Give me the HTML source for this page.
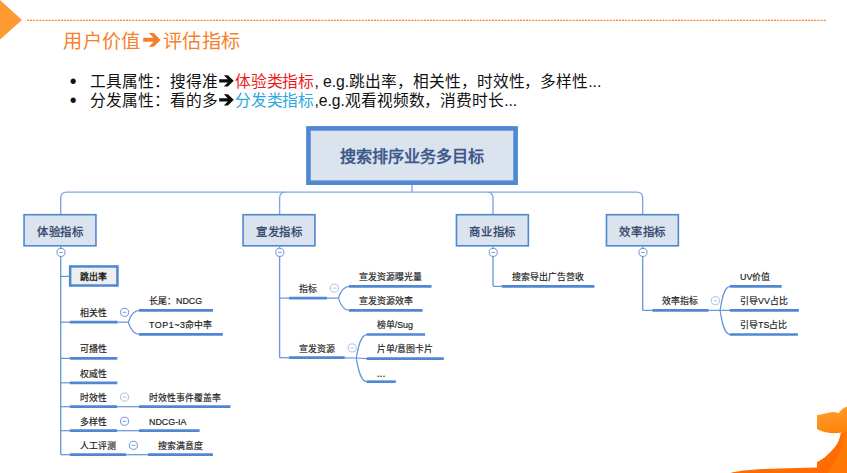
<!DOCTYPE html>
<html lang="zh-CN"><head><meta charset="utf-8"><title>用户价值 评估指标</title>
<style>
html,body{margin:0;padding:0;background:#fff;}
body{width:847px;height:473px;position:relative;overflow:hidden;font-family:"Liberation Sans",sans-serif;}
.t{position:absolute;white-space:nowrap;overflow:visible;}
#g{position:absolute;left:0;top:0;}
.title{position:absolute;left:63.3px;top:28.4px;height:28px;line-height:28px;font-size:19.2px;letter-spacing:0.38px;color:#F5822A;white-space:nowrap;}
.b{position:absolute;left:70.5px;height:20px;line-height:20px;font-size:15.72px;letter-spacing:-0.05px;color:#111;white-space:nowrap;}
.b .dot{display:inline-block;width:19.5px;font-size:19.4px;line-height:0;vertical-align:-1.3px;text-indent:-0.7px;letter-spacing:0;}
.red{color:#F01818;} .blue{color:#2CA6E0;}
.arr{display:inline-block;} .at{vertical-align:1.35px;} .ab{vertical-align:-0.4px;}
</style></head><body>
<svg id="g" width="847" height="473" viewBox="0 0 847 473">
<defs>
<linearGradient id="og" x1="0" y1="0" x2="0.35" y2="1"><stop offset="0" stop-color="#FFA133"/><stop offset="1" stop-color="#FF860C"/></linearGradient>
</defs>
<!-- header decorations -->
<path d="M0 0 L22 20 L0 39.5 Z" fill="#FF9A33"/>
<path d="M27 20.4 L826 20.4" stroke="#FB7B22" stroke-width="1.4" stroke-dasharray="1.9 1.2" fill="none"/>
<!-- bottom-right swoosh -->
<path d="M847 431 L847 473 L730.5 473 C738 470.6 752 469.2 778 468.4 L817 467.5 L817 462.2 C824 458.6 832 451.5 837.6 442.9 C839.4 439.5 840.4 436 840.8 433 Z" fill="#FF6C02"/>
<path d="M847 430 L843.5 433 C843 448 837 462 827.5 473 L847 473 Z" fill="#FF7909"/>
<path d="M817 415 C824 414.5 829 412 834 412 C836 412 837 413 838.5 413.2 C840 411 843 408 847 406.5 L847 431.5 C838 434 826 434 817 429 Z" fill="url(#og)"/>
<!-- mind map -->
<rect x="308.45" y="128.4" width="207.15" height="54.3" fill="#DAE3EE" stroke="#4F87D3" stroke-width="4.6"/>
<path d="M412 185L412 192.1" stroke="#82A8E1" stroke-width="1.4" fill="none"/>
<path d="M60.7 214 L60.7 198.1 Q60.7 192.1 66.7 192.1 L636.7 192.1 Q642.7 192.1 642.7 198.1 L642.7 214" stroke="#82A8E1" stroke-width="1.4" fill="none"/>
<path d="M279.6 214 L279.6 198.1 Q279.6 192.1 285.6 192.1" stroke="#82A8E1" stroke-width="1.4" fill="none"/>
<path d="M493 214 L493 198.1 Q493 192.1 487 192.1" stroke="#82A8E1" stroke-width="1.4" fill="none"/>
<rect x="24.05" y="214.7" width="71.9" height="31.1" fill="#DAE3EE" stroke="#4F87D3" stroke-width="1.6"/>
<rect x="243.05" y="214.7" width="71.9" height="31.1" fill="#DAE3EE" stroke="#4F87D3" stroke-width="1.6"/>
<rect x="456.45" y="214.7" width="71.9" height="31.1" fill="#DAE3EE" stroke="#4F87D3" stroke-width="1.6"/>
<rect x="606.45" y="214.7" width="71.9" height="31.1" fill="#DAE3EE" stroke="#4F87D3" stroke-width="1.6"/>
<path d="M60.7 246.5L60.7 454.7" stroke="#6A9ADD" stroke-width="1.35" fill="none"/>
<circle cx="61" cy="252.4" r="4.05" fill="#fff" stroke="#6594DA" stroke-width="1"/>
<path d="M59.1 252.4L62.9 252.4" stroke="#6594DA" stroke-width="1" opacity="0.85"/>
<path d="M60.7 276.4L70 276.4" stroke="#6896DC" stroke-width="1.25" fill="none"/>
<rect x="70.15" y="266.45" width="47.3" height="19.1" fill="#EFEFEF" stroke="#4F87D3" stroke-width="2.5"/>
<path d="M60.7 322.2L70 322.2" stroke="#6896DC" stroke-width="1.25" fill="none"/>
<path d="M69.9 322.2L117.6 322.2" stroke="#4F87D5" stroke-width="2.7" fill="none"/>
<path d="M60.7 358.4L70 358.4" stroke="#6896DC" stroke-width="1.25" fill="none"/>
<path d="M69.9 358.4L117.3 358.4" stroke="#4F87D5" stroke-width="2.7" fill="none"/>
<path d="M60.7 382.8L70 382.8" stroke="#6896DC" stroke-width="1.25" fill="none"/>
<path d="M69.9 382.8L117.3 382.8" stroke="#4F87D5" stroke-width="2.7" fill="none"/>
<path d="M60.7 406.7L70 406.7" stroke="#6896DC" stroke-width="1.25" fill="none"/>
<path d="M69.9 406.7L117.3 406.7" stroke="#4F87D5" stroke-width="2.7" fill="none"/>
<path d="M60.7 430.7L70 430.7" stroke="#6896DC" stroke-width="1.25" fill="none"/>
<path d="M69.9 430.7L117.3 430.7" stroke="#4F87D5" stroke-width="2.7" fill="none"/>
<path d="M60.7 454.7L70 454.7" stroke="#6896DC" stroke-width="1.25" fill="none"/>
<path d="M69.9 454.7L126.2 454.7" stroke="#4F87D5" stroke-width="2.7" fill="none"/>
<path d="M117.6 322.2L128.3 322.2" stroke="#6896DC" stroke-width="1.25" fill="none"/>
<path d="M128.3 322.2 C130.44 315.71 133.12 310.4 139.5 310.4" stroke="#6896DC" stroke-width="1.25" fill="none"/>
<path d="M128.3 322.2 C130.44 328.91 133.12 334.4 139.5 334.4" stroke="#6896DC" stroke-width="1.25" fill="none"/>
<circle cx="124.55" cy="312.35" r="4.05" fill="#fff" stroke="#6594DA" stroke-width="1"/>
<path d="M122.65 312.35L126.45 312.35" stroke="#6594DA" stroke-width="1" opacity="0.85"/>
<path d="M139 310.4L213 310.4" stroke="#4F87D5" stroke-width="2.7" fill="none"/>
<path d="M139 334.4L222.8 334.4" stroke="#4F87D5" stroke-width="2.7" fill="none"/>
<path d="M117.3 406.7L139 406.7" stroke="#6896DC" stroke-width="1.25" fill="none"/>
<circle cx="124.5" cy="397.1" r="4.05" fill="#fff" stroke="#A9C2EA" stroke-width="1"/>
<path d="M122.6 397.1L126.4 397.1" stroke="#A9C2EA" stroke-width="1" opacity="0.85"/>
<path d="M138.9 406.7L230.5 406.7" stroke="#4F87D5" stroke-width="2.7" fill="none"/>
<path d="M117.3 430.7L139 430.7" stroke="#6896DC" stroke-width="1.25" fill="none"/>
<circle cx="124.5" cy="421.3" r="4.05" fill="#fff" stroke="#6594DA" stroke-width="1"/>
<path d="M122.6 421.3L126.4 421.3" stroke="#6594DA" stroke-width="1" opacity="0.85"/>
<path d="M138.9 430.7L199.6 430.7" stroke="#4F87D5" stroke-width="2.7" fill="none"/>
<path d="M126.2 454.7L148 454.7" stroke="#6896DC" stroke-width="1.25" fill="none"/>
<circle cx="133.4" cy="445.3" r="4.05" fill="#fff" stroke="#6594DA" stroke-width="1"/>
<path d="M131.5 445.3L135.3 445.3" stroke="#6594DA" stroke-width="1" opacity="0.85"/>
<path d="M147.9 454.7L212.9 454.7" stroke="#4F87D5" stroke-width="2.7" fill="none"/>
<path d="M279.6 246.5L279.6 357.7" stroke="#6A9ADD" stroke-width="1.35" fill="none"/>
<circle cx="279.8" cy="252.4" r="4.05" fill="#fff" stroke="#6594DA" stroke-width="1"/>
<path d="M277.9 252.4L281.7 252.4" stroke="#6594DA" stroke-width="1" opacity="0.85"/>
<path d="M279.6 298.1L289.2 298.1" stroke="#6896DC" stroke-width="1.25" fill="none"/>
<path d="M289.1 298.1L326.9 298.1" stroke="#4F87D5" stroke-width="2.7" fill="none"/>
<path d="M326.9 298.1L338.4 298.1" stroke="#6896DC" stroke-width="1.25" fill="none"/>
<path d="M338.4 298.1 C340.52 291.67 343.17 286.4 349.5 286.4" stroke="#6896DC" stroke-width="1.25" fill="none"/>
<path d="M338.4 298.1 C340.52 304.87 343.17 310.4 349.5 310.4" stroke="#6896DC" stroke-width="1.25" fill="none"/>
<circle cx="334.4" cy="288.1" r="4.05" fill="#fff" stroke="#A9C2EA" stroke-width="1"/>
<path d="M332.5 288.1L336.3 288.1" stroke="#A9C2EA" stroke-width="1" opacity="0.85"/>
<path d="M349 286.4L431.5 286.4" stroke="#4F87D5" stroke-width="2.7" fill="none"/>
<path d="M349 310.4L422.6 310.4" stroke="#4F87D5" stroke-width="2.7" fill="none"/>
<path d="M279.6 357.7L289.2 357.7" stroke="#6896DC" stroke-width="1.25" fill="none"/>
<path d="M289.1 357.7L344.8 357.7" stroke="#4F87D5" stroke-width="2.7" fill="none"/>
<path d="M344.8 357.8L356.3 358" stroke="#6896DC" stroke-width="1.25" fill="none"/>
<path d="M356.3 358 C358.38 345.07 360.98 334.5 367.2 334.5" stroke="#6896DC" stroke-width="1.25" fill="none"/>
<path d="M356.3 358L367 358.6" stroke="#6896DC" stroke-width="1.25" fill="none"/>
<path d="M356.3 358 C358.38 371.03 360.98 381.7 367.2 381.7" stroke="#6896DC" stroke-width="1.25" fill="none"/>
<circle cx="352.2" cy="347.9" r="4.05" fill="#fff" stroke="#A9C2EA" stroke-width="1"/>
<path d="M350.3 347.9L354.1 347.9" stroke="#A9C2EA" stroke-width="1" opacity="0.85"/>
<path d="M366.7 334.5L425.1 334.5" stroke="#4F87D5" stroke-width="2.7" fill="none"/>
<path d="M366.7 358.6L443.8 358.6" stroke="#4F87D5" stroke-width="2.7" fill="none"/>
<path d="M366.7 381.7L395.8 381.7" stroke="#4F87D5" stroke-width="2.7" fill="none"/>
<path d="M493 246.5 L493 284.9 Q493 286.4 494.5 286.4 L503 286.4" stroke="#6A9ADD" stroke-width="1.35" fill="none"/>
<circle cx="493.2" cy="252.4" r="4.05" fill="#fff" stroke="#6594DA" stroke-width="1"/>
<path d="M491.3 252.4L495.1 252.4" stroke="#6594DA" stroke-width="1" opacity="0.85"/>
<path d="M501.9 286.4L594.4 286.4" stroke="#4F87D5" stroke-width="2.7" fill="none"/>
<path d="M642.7 246.5L642.7 310.4" stroke="#6A9ADD" stroke-width="1.35" fill="none"/>
<circle cx="643" cy="252.4" r="4.05" fill="#fff" stroke="#6594DA" stroke-width="1"/>
<path d="M641.1 252.4L644.9 252.4" stroke="#6594DA" stroke-width="1" opacity="0.85"/>
<path d="M642.7 310.4L652.4 310.4" stroke="#6896DC" stroke-width="1.25" fill="none"/>
<path d="M652.3 310.4L708.6 310.4" stroke="#4F87D5" stroke-width="2.7" fill="none"/>
<path d="M708.6 310.4L720.1 310.4" stroke="#6896DC" stroke-width="1.25" fill="none"/>
<path d="M720.1 310.4 C722.06 297.2 724.51 286.4 730.4 286.4" stroke="#6896DC" stroke-width="1.25" fill="none"/>
<path d="M720.1 310.4L730 310.4" stroke="#6896DC" stroke-width="1.25" fill="none"/>
<path d="M720.1 310.4 C722.06 323.65 724.51 334.5 730.4 334.5" stroke="#6896DC" stroke-width="1.25" fill="none"/>
<circle cx="715.4" cy="300.7" r="4.05" fill="#fff" stroke="#A9C2EA" stroke-width="1"/>
<path d="M713.5 300.7L717.3 300.7" stroke="#A9C2EA" stroke-width="1" opacity="0.85"/>
<path d="M729.9 286.4L781.7 286.4" stroke="#4F87D5" stroke-width="2.7" fill="none"/>
<path d="M729.9 310.4L798.9 310.4" stroke="#4F87D5" stroke-width="2.7" fill="none"/>
<path d="M729.9 334.5L797.9 334.5" stroke="#4F87D5" stroke-width="2.7" fill="none"/>
</svg>
<div class="title">用户价值<svg class="arr at" width="22" height="14" viewBox="0 0 22 14"><path d="M2.2 4.85 H12.45 L7.8 0.05 H12.75 L19.65 6.95 L12.75 13.8 H7.8 L12.45 8.7 H2.2 Z" fill="#F08030"/></svg>评估指标</div>
<div class="b" style="top:72px"><span class="dot">•</span>工具属性：搜得准<svg class="arr ab" width="17" height="12" viewBox="0 0 17 12"><path d="M1.2 4.3 H9.7 L5.85 0.2 H9.95 L15.7 5.85 L9.95 11.5 H5.85 L9.7 7.4 H1.2 Z" fill="#0d0d0d"/></svg><span class="red">体验类指标</span>, e.g.跳出率，相关性，时效性，多样性...</div>
<div class="b" style="top:91px"><span class="dot">•</span>分发属性：看的多<svg class="arr ab" width="17" height="12" viewBox="0 0 17 12"><path d="M1.2 4.3 H9.7 L5.85 0.2 H9.95 L15.7 5.85 L9.95 11.5 H5.85 L9.7 7.4 H1.2 Z" fill="#0d0d0d"/></svg><span class="blue">分发类指标</span>,e.g.观看视频数，消费时长...</div>
<div class="t" style="left:312px;width:200px;text-align:center;top:148.8px;height:14px;line-height:14px;font-size:16.1px;color:#3F5A8A;font-weight:700;">搜索排序业务多目标</div>
<div class="t" style="left:-40px;width:200px;text-align:center;top:224.5px;height:14px;line-height:14px;font-size:11.4px;color:#2F4268;font-weight:400;-webkit-text-stroke:0.28px currentColor;letter-spacing:0.6px;text-indent:0.6px;">体验指标</div>
<div class="t" style="left:179px;width:200px;text-align:center;top:224.5px;height:14px;line-height:14px;font-size:11.4px;color:#2F4268;font-weight:400;-webkit-text-stroke:0.28px currentColor;letter-spacing:0.6px;text-indent:0.6px;">宣发指标</div>
<div class="t" style="left:392.4px;width:200px;text-align:center;top:224.5px;height:14px;line-height:14px;font-size:11.4px;color:#2F4268;font-weight:400;-webkit-text-stroke:0.28px currentColor;letter-spacing:0.6px;text-indent:0.6px;">商业指标</div>
<div class="t" style="left:542.4px;width:200px;text-align:center;top:224.5px;height:14px;line-height:14px;font-size:11.4px;color:#2F4268;font-weight:400;-webkit-text-stroke:0.28px currentColor;letter-spacing:0.6px;text-indent:0.6px;">效率指标</div>
<div class="t" style="left:-6.4px;width:200px;text-align:center;top:269.9px;height:14px;line-height:14px;font-size:8.9px;color:#1c1c1c;font-weight:700;">跳出率</div>
<div class="t" style="left:80.1px;top:306px;height:14px;line-height:14px;font-size:8.9px;color:#1c1c1c;font-weight:400;-webkit-text-stroke:0.18px currentColor;">相关性</div>
<div class="t" style="left:80.1px;top:342.2px;height:14px;line-height:14px;font-size:8.9px;color:#1c1c1c;font-weight:400;-webkit-text-stroke:0.18px currentColor;">可播性</div>
<div class="t" style="left:80.1px;top:366.6px;height:14px;line-height:14px;font-size:8.9px;color:#1c1c1c;font-weight:400;-webkit-text-stroke:0.18px currentColor;">权威性</div>
<div class="t" style="left:80.1px;top:390.5px;height:14px;line-height:14px;font-size:8.9px;color:#1c1c1c;font-weight:400;-webkit-text-stroke:0.18px currentColor;">时效性</div>
<div class="t" style="left:80.1px;top:414.5px;height:14px;line-height:14px;font-size:8.9px;color:#1c1c1c;font-weight:400;-webkit-text-stroke:0.18px currentColor;">多样性</div>
<div class="t" style="left:80.1px;top:438.5px;height:14px;line-height:14px;font-size:8.9px;color:#1c1c1c;font-weight:400;-webkit-text-stroke:0.18px currentColor;">人工评测</div>
<div class="t" style="left:149px;top:294.2px;height:14px;line-height:14px;font-size:8.9px;color:#1c1c1c;font-weight:400;-webkit-text-stroke:0.18px currentColor;">长尾：NDCG</div>
<div class="t" style="left:149px;top:318.2px;height:14px;line-height:14px;font-size:8.9px;color:#1c1c1c;font-weight:400;-webkit-text-stroke:0.18px currentColor;"><span style="letter-spacing:.55px">TOP1~3</span>命中率</div>
<div class="t" style="left:148.7px;top:390.5px;height:14px;line-height:14px;font-size:8.9px;color:#1c1c1c;font-weight:400;-webkit-text-stroke:0.18px currentColor;">时效性事件覆盖率</div>
<div class="t" style="left:149px;top:414.5px;height:14px;line-height:14px;font-size:8.9px;color:#1c1c1c;font-weight:400;-webkit-text-stroke:0.18px currentColor;">NDCG-IA</div>
<div class="t" style="left:157.9px;top:438.5px;height:14px;line-height:14px;font-size:8.9px;color:#1c1c1c;font-weight:400;-webkit-text-stroke:0.18px currentColor;">搜索满意度</div>
<div class="t" style="left:299.1px;top:281.9px;height:14px;line-height:14px;font-size:8.9px;color:#1c1c1c;font-weight:400;-webkit-text-stroke:0.18px currentColor;">指标</div>
<div class="t" style="left:358.8px;top:270.2px;height:14px;line-height:14px;font-size:8.9px;color:#1c1c1c;font-weight:400;-webkit-text-stroke:0.18px currentColor;">宣发资源曝光量</div>
<div class="t" style="left:358.8px;top:294.2px;height:14px;line-height:14px;font-size:8.9px;color:#1c1c1c;font-weight:400;-webkit-text-stroke:0.18px currentColor;">宣发资源效率</div>
<div class="t" style="left:299.1px;top:341.5px;height:14px;line-height:14px;font-size:8.9px;color:#1c1c1c;font-weight:400;-webkit-text-stroke:0.18px currentColor;">宣发资源</div>
<div class="t" style="left:376.7px;top:318.3px;height:14px;line-height:14px;font-size:8.9px;color:#1c1c1c;font-weight:400;-webkit-text-stroke:0.18px currentColor;">榜单/Sug</div>
<div class="t" style="left:376.7px;top:342.4px;height:14px;line-height:14px;font-size:8.9px;color:#1c1c1c;font-weight:400;-webkit-text-stroke:0.18px currentColor;">片单/意图卡片</div>
<div class="t" style="left:376.7px;top:365.7px;height:14px;line-height:14px;font-size:8.9px;color:#1c1c1c;font-weight:400;-webkit-text-stroke:0.18px currentColor;"><span style="font-size:10.5px">...</span></div>
<div class="t" style="left:512.3px;top:270.2px;height:14px;line-height:14px;font-size:8.9px;color:#1c1c1c;font-weight:400;-webkit-text-stroke:0.18px currentColor;">搜索导出广告营收</div>
<div class="t" style="left:662.3px;top:294.2px;height:14px;line-height:14px;font-size:8.9px;color:#1c1c1c;font-weight:400;-webkit-text-stroke:0.18px currentColor;">效率指标</div>
<div class="t" style="left:740px;top:270.2px;height:14px;line-height:14px;font-size:8.9px;color:#1c1c1c;font-weight:400;-webkit-text-stroke:0.18px currentColor;">UV价值</div>
<div class="t" style="left:740px;top:294.2px;height:14px;line-height:14px;font-size:8.9px;color:#1c1c1c;font-weight:400;-webkit-text-stroke:0.18px currentColor;">引导VV占比</div>
<div class="t" style="left:740px;top:318.3px;height:14px;line-height:14px;font-size:8.9px;color:#1c1c1c;font-weight:400;-webkit-text-stroke:0.18px currentColor;">引导TS占比</div>
</body></html>
